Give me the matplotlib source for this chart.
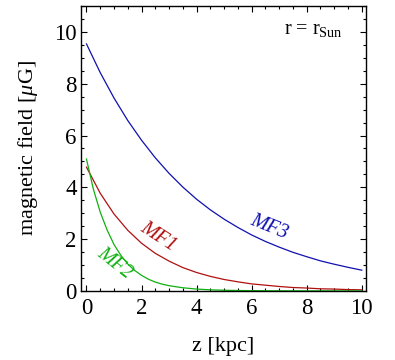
import matplotlib
matplotlib.use("Agg")
import matplotlib.pyplot as plt
from matplotlib.ticker import MultipleLocator

plt.rcParams['font.family'] = ['Liberation Serif', 'DejaVu Serif']
plt.rcParams['mathtext.fontset'] = 'custom'
plt.rcParams['mathtext.rm'] = 'Liberation Serif'
plt.rcParams['mathtext.it'] = 'Liberation Serif:italic'

# z grid (kpc) for MF1 and MF3
z = [0, 0.5, 1, 1.5, 2, 2.5, 3, 3.5, 4, 4.5, 5, 5.5, 6, 6.5, 7, 7.5, 8, 8.5, 9, 9.5, 10]
mf3 = [9.54, 8.43, 7.45, 6.58, 5.82, 5.14, 4.54, 4.01, 3.54, 3.13, 2.77, 2.45, 2.16,
       1.91, 1.69, 1.49, 1.32, 1.16, 1.03, 0.91, 0.80]
mf1 = [4.78, 3.77, 2.97, 2.34, 1.84, 1.45, 1.15, 0.90, 0.71, 0.56, 0.44, 0.35, 0.27,
       0.22, 0.17, 0.13, 0.11, 0.08, 0.07, 0.05, 0.04]
# denser grid near the plane for the steep MF2 curve
z2 = [0, 0.25, 0.5, 0.75, 1, 1.25, 1.5, 1.75, 2, 2.25, 2.5, 2.75, 3, 3.5, 4, 4.5, 5,
      5.5, 6, 6.5, 7, 7.5, 8, 8.5, 9, 9.5, 10]
mf2 = [5.09, 3.93, 3.04, 2.35, 1.79, 1.37, 1.04, 0.79, 0.60, 0.45, 0.34, 0.26, 0.20,
       0.12, 0.07, 0.04, 0.025, 0.015, 0.009, 0.005, 0.003, 0.002, 0.001, 0.001, 0.0, 0.0, 0.0]

c_blue = '#1010b0'
c_red = '#b01010'
c_green = '#10b010'

fig = plt.figure(figsize=(3.95, 3.6), dpi=100)
ax = fig.add_axes([0.205, 0.192, 0.722, 0.791])

ax.plot(z, mf3, color=c_blue, lw=0.9)
ax.plot(z, mf1, color=c_red, lw=0.9)
ax.plot(z2, mf2, color=c_green, lw=0.9)

ax.set_xlim(-0.2, 10.16)
ax.set_ylim(0, 11)
ax.xaxis.set_major_locator(MultipleLocator(2))
ax.xaxis.set_minor_locator(MultipleLocator(0.5))
ax.yaxis.set_major_locator(MultipleLocator(2))
ax.yaxis.set_minor_locator(MultipleLocator(0.5))
ax.tick_params(which='both', direction='in', top=True, right=True, labelsize=16.5,
               width=0.8, colors='black')
ax.tick_params(which='major', length=4.5, pad=3)
ax.tick_params(axis='x', which='major', pad=5)
ax.tick_params(which='minor', length=2.5)
for s in ax.spines.values():
    s.set_linewidth(1.0)

ax.set_xlabel('z [kpc]', fontsize=16, labelpad=13)
ax.set_ylabel(r'magnetic field [$\mu$G]', fontsize=16, labelpad=10)

ax.text(6.65, 2.45, 'MF3', color=c_blue, fontsize=14.5, style='italic',
        rotation=-22, ha='center', va='center')
ax.text(2.6, 2.1, 'MF1', color=c_red, fontsize=14.5, style='italic',
        rotation=-33, ha='center', va='center')
ax.text(1.0, 1.05, 'MF2', color=c_green, fontsize=14.5, style='italic',
        rotation=-38, ha='center', va='center')
ax.text(8.25, 10.1, r'r = r$_{\mathrm{Sun}}$', fontsize=14.5, ha='center', va='center')

fig.savefig('out.png', dpi=100)
